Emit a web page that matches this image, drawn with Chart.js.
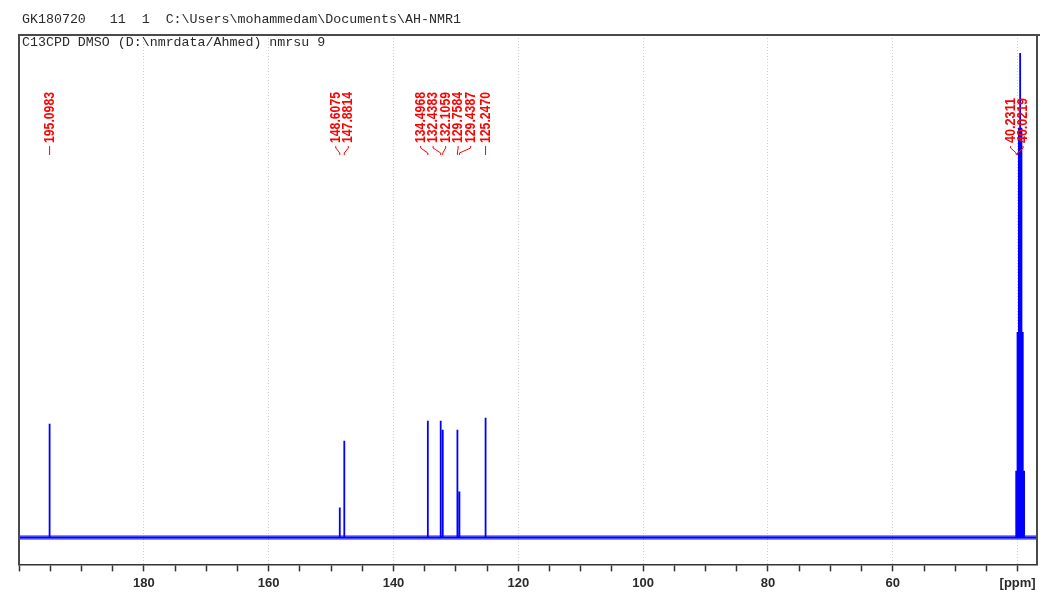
<!DOCTYPE html>
<html>
<head>
<meta charset="utf-8">
<script src="https://cdn.jsdelivr.net/npm/chart.js@4/dist/chart.umd.min.js"></script>
<style>
  body { margin: 0; background: #fff; }
  #wrap { position: relative; width: 1062px; height: 610px; }
  .hdr { position: absolute; left: 22px; font: 13.3px "Liberation Mono", monospace; color: #2a2a2a; white-space: pre; }
</style>
</head>
<body>
<div id="wrap">
  <canvas id="nmr" width="1062" height="610"></canvas>
  <div class="hdr" style="top:12px">GK180720   11  1  C:\Users\mohammedam\Documents\AH-NMR1</div>
  <div class="hdr" style="top:35px">C13CPD DMSO (D:\nmrdata/Ahmed) nmrsu 9</div>
</div>
<script>
// spectrum window (ppm, reversed axis)
const ppmMax = 200.0;
const ppmMin = 36.9;

// peaks: chemical shift (ppm) and height above baseline
const peakShifts = [195.0983, 148.6075, 147.8814, 134.4968, 132.4383, 132.1059, 129.7584, 129.4387, 125.2470,
                    40.2311, 40.0219, 39.81, 39.60, 39.39, 39.18, 38.97];
const peakHeights = [114, 30, 97, 117, 117, 108, 108, 46, 120,
                     67, 206, 411, 486, 411, 206, 67];

// peaks that carry a red label
const labelledShifts = [195.0983, 148.6075, 147.8814, 134.4968, 132.4383, 132.1059, 129.7584, 129.4387, 125.2470,
                        40.2311, 40.0219];

// axis ticks
const minorTicks = [200, 195, 190, 185, 180, 175, 170, 165, 160, 155, 150, 145, 140, 135, 130, 125, 120, 115, 110,
                    105, 100, 95, 90, 85, 80, 75, 70, 65, 60, 55, 50, 45, 40];
const gridValues = [180, 160, 140, 120, 100, 80, 60, 40];
const tickLabels = { 180: '180', 160: '160', 140: '140', 120: '120', 100: '100', 80: '80', 60: '60', 40: '[ppm]' };

// build the stick spectrum from the peak list
const spectrum = [{ x: ppmMax, y: 0 }];
peakShifts.forEach((p, i) => {
  spectrum.push({ x: p, y: 0 }, { x: p, y: peakHeights[i] }, { x: p, y: 0 });
});
spectrum.push({ x: ppmMin, y: 0 });

const peakLabels = {
  id: 'peakLabels',
  afterDatasetsDraw(chart) {
    const ctx = chart.ctx;
    const xs = chart.scales.x;
    const items = labelledShifts.map(p => ({ p, px: xs.getPixelForValue(p) }));
    items.sort((a, b) => a.px - b.px);
    items.forEach(it => it.lx = it.px);
    const gap = 12.5;
    // push overlapping labels apart
    for (let k = 0; k < 300; k++) {
      for (let i = 0; i < items.length - 1; i++) {
        const d = items[i + 1].lx - items[i].lx;
        if (d < gap) {
          const s = (gap - d) / 2;
          items[i].lx -= s;
          items[i + 1].lx += s;
        }
      }
    }
    ctx.save();
    ctx.fillStyle = '#ff0000';
    ctx.strokeStyle = '#ff0000';
    ctx.lineWidth = 1;
    ctx.font = 'bold 15px "Liberation Sans", Arial, sans-serif';
    items.forEach(it => {
      const txt = it.p.toFixed(4);
      const w = ctx.measureText(txt).width;
      const target = txt.length === 8 ? 51 : 45;
      ctx.save();
      ctx.translate(it.lx, 143);
      ctx.rotate(-Math.PI / 2);
      ctx.scale(target / w, 1);
      ctx.textAlign = 'left';
      ctx.textBaseline = 'middle';
      ctx.fillText(txt, 0, 0);
      ctx.restore();
      ctx.beginPath();
      ctx.moveTo(it.lx, 146);
      ctx.lineTo(it.lx, 148);
      ctx.lineTo(it.px, 153);
      ctx.lineTo(it.px, 155);
      ctx.stroke();
    });
    ctx.restore();
  },
  afterDraw(chart) {
    const { ctx, chartArea: a } = chart;
    ctx.save();
    ctx.strokeStyle = '#4a4a4a';
    ctx.lineWidth = 2;
    ctx.beginPath();
    ctx.moveTo(a.left, a.bottom);
    ctx.lineTo(a.left, a.top);
    ctx.lineTo(a.right + 3, a.top);
    ctx.moveTo(a.right, a.top);
    ctx.lineTo(a.right, a.bottom);
    ctx.stroke();
    ctx.restore();
  }
};

new Chart(document.getElementById('nmr'), {
  type: 'line',
  data: {
    datasets: [
      {
        label: 'spectrum',
        data: spectrum,
        borderColor: '#0000ff',
        borderWidth: 1.8,
        pointRadius: 0,
        tension: 0,
        order: 1
      },
      {
        label: 'baseline',
        data: [{ x: ppmMax, y: 0 }, { x: ppmMin, y: 0 }],
        borderColor: 'rgba(0, 0, 255, 0.45)',
        borderWidth: 5,
        pointRadius: 0,
        order: 2
      }
    ]
  },
  options: {
    responsive: false,
    animation: false,
    layout: { padding: { left: 19, right: 25, top: 35, bottom: 15 } },
    plugins: { legend: { display: false }, tooltip: { enabled: false } },
    scales: {
      x: {
        type: 'linear',
        reverse: true,
        min: ppmMin,
        max: ppmMax,
        afterBuildTicks: scale => { scale.ticks = minorTicks.map(v => ({ value: v })); },
        ticks: {
          autoSkip: false,
          maxRotation: 0,
          padding: 4,
          color: '#2a2a2a',
          font: { family: '"Liberation Sans", Arial, sans-serif', size: 13, weight: 'bold' },
          callback: v => tickLabels[v] || ''
        },
        grid: {
          color: c => (c.tick && gridValues.includes(c.tick.value)) ? '#cfcfcf' : 'rgba(0,0,0,0)',
          lineWidth: 1,
          tickLength: 7,
          tickColor: '#333',
          tickWidth: 1.5
        },
        border: { color: '#333', width: 1.5, dash: [1, 2] }
      },
      y: {
        display: false,
        min: -27,
        max: 504
      }
    }
  },
  plugins: [peakLabels]
});
</script>
</body>
</html>
